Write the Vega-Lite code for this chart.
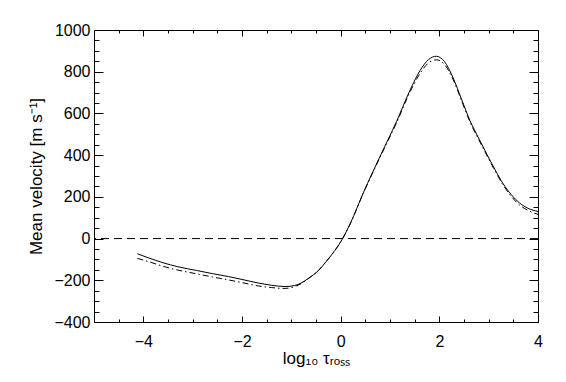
{
  "$schema": "https://vega.github.io/schema/vega-lite/v6.json",
  "width": 444,
  "height": 292,
  "autosize": {"type": "none"},
  "padding": {"left": 94, "top": 30, "right": 28, "bottom": 60},
  "background": "white",
  "config": {
    "view": {"stroke": "black", "strokeWidth": 1},
    "font": "Liberation Sans",
    "axis": {"domain": false, "grid": false, "tickColor": "black", "labelColor": "black", "titleColor": "black", "labelFont": "Liberation Sans", "titleFont": "Liberation Sans", "labelFontSize": 16, "titleFontSize": 17, "titleFontWeight": "normal", "tickWidth": 1, "format": "d"}
  },
  "datasets": {
    "zero": [{"y": 0}],
    "curves": [
      {"series": "solid", "x": -4.12, "v": -73},
      {"series": "solid", "x": -3.9, "v": -92},
      {"series": "solid", "x": -3.6, "v": -116},
      {"series": "solid", "x": -3.3, "v": -135},
      {"series": "solid", "x": -2.92, "v": -153},
      {"series": "solid", "x": -2.6, "v": -168},
      {"series": "solid", "x": -2.28, "v": -182},
      {"series": "solid", "x": -2.0, "v": -196},
      {"series": "solid", "x": -1.67, "v": -213},
      {"series": "solid", "x": -1.4, "v": -224},
      {"series": "solid", "x": -1.13, "v": -230},
      {"series": "solid", "x": -0.93, "v": -225},
      {"series": "solid", "x": -0.8, "v": -213},
      {"series": "solid", "x": -0.65, "v": -190},
      {"series": "solid", "x": -0.45, "v": -153},
      {"series": "solid", "x": -0.3, "v": -112},
      {"series": "solid", "x": -0.12, "v": -58},
      {"series": "solid", "x": 0.04, "v": 0},
      {"series": "solid", "x": 0.2, "v": 75},
      {"series": "solid", "x": 0.46, "v": 220},
      {"series": "solid", "x": 0.8, "v": 395},
      {"series": "solid", "x": 1.13, "v": 560},
      {"series": "solid", "x": 1.4, "v": 708},
      {"series": "solid", "x": 1.61, "v": 806},
      {"series": "solid", "x": 1.78, "v": 858},
      {"series": "solid", "x": 1.94, "v": 874},
      {"series": "solid", "x": 2.1, "v": 850},
      {"series": "solid", "x": 2.28, "v": 770},
      {"series": "solid", "x": 2.45, "v": 668},
      {"series": "solid", "x": 2.62, "v": 566},
      {"series": "solid", "x": 2.8, "v": 480},
      {"series": "solid", "x": 2.96, "v": 406},
      {"series": "solid", "x": 3.13, "v": 330},
      {"series": "solid", "x": 3.29, "v": 264},
      {"series": "solid", "x": 3.46, "v": 210},
      {"series": "solid", "x": 3.63, "v": 170},
      {"series": "solid", "x": 3.8, "v": 145},
      {"series": "solid", "x": 4.0, "v": 130},
      {"series": "dashdot", "x": -4.12, "v": -95},
      {"series": "dashdot", "x": -3.9, "v": -110},
      {"series": "dashdot", "x": -3.6, "v": -133},
      {"series": "dashdot", "x": -3.3, "v": -151},
      {"series": "dashdot", "x": -2.92, "v": -169},
      {"series": "dashdot", "x": -2.6, "v": -184},
      {"series": "dashdot", "x": -2.28, "v": -198},
      {"series": "dashdot", "x": -2.0, "v": -211},
      {"series": "dashdot", "x": -1.67, "v": -227},
      {"series": "dashdot", "x": -1.4, "v": -235},
      {"series": "dashdot", "x": -1.13, "v": -239},
      {"series": "dashdot", "x": -0.93, "v": -230},
      {"series": "dashdot", "x": -0.8, "v": -216},
      {"series": "dashdot", "x": -0.65, "v": -191},
      {"series": "dashdot", "x": -0.45, "v": -153},
      {"series": "dashdot", "x": -0.3, "v": -112},
      {"series": "dashdot", "x": -0.12, "v": -58},
      {"series": "dashdot", "x": 0.04, "v": 0},
      {"series": "dashdot", "x": 0.2, "v": 74},
      {"series": "dashdot", "x": 0.46, "v": 218},
      {"series": "dashdot", "x": 0.8, "v": 391},
      {"series": "dashdot", "x": 1.13, "v": 554},
      {"series": "dashdot", "x": 1.4, "v": 700},
      {"series": "dashdot", "x": 1.61, "v": 792},
      {"series": "dashdot", "x": 1.78, "v": 842},
      {"series": "dashdot", "x": 1.94, "v": 857},
      {"series": "dashdot", "x": 2.1, "v": 836},
      {"series": "dashdot", "x": 2.28, "v": 762},
      {"series": "dashdot", "x": 2.45, "v": 662},
      {"series": "dashdot", "x": 2.62, "v": 560},
      {"series": "dashdot", "x": 2.8, "v": 474},
      {"series": "dashdot", "x": 2.96, "v": 400},
      {"series": "dashdot", "x": 3.13, "v": 324},
      {"series": "dashdot", "x": 3.29, "v": 258},
      {"series": "dashdot", "x": 3.46, "v": 202},
      {"series": "dashdot", "x": 3.63, "v": 160},
      {"series": "dashdot", "x": 3.8, "v": 135},
      {"series": "dashdot", "x": 4.0, "v": 116}
    ]
  },
  "resolve": {"axis": {"x": "independent", "y": "independent"}},
  "layer": [
    {
      "data": {"name": "zero"},
      "mark": {"type": "rule", "strokeDash": [8, 5], "color": "black", "strokeWidth": 1},
      "encoding": {
        "y": {"field": "y", "type": "quantitative", "scale": {"domain": [-400, 1000], "nice": false, "zero": false},
          "axis": {"orient": "left", "title": "Mean velocity [m s⁻¹]", "values": [-400, -200, 0, 200, 400, 600, 800, 1000], "tickSize": -9, "labelPadding": 13, "titlePadding": 8, "labelFlush": false}}
      }
    },
    {
      "data": {"name": "curves"},
      "transform": [{"filter": "datum.series === 'solid'"}],
      "mark": {"type": "line", "color": "black", "strokeWidth": 1, "interpolate": "monotone"},
      "encoding": {
        "x": {"field": "x", "type": "quantitative", "scale": {"domain": [-5, 4], "nice": false, "zero": false},
          "axis": {"orient": "bottom", "title": "log₁₀ τᵣₒₛₛ", "values": [-4, -2, 0, 2, 4], "tickSize": -6, "labelPadding": 17, "titlePadding": 1, "labelFlush": false}},
        "y": {"field": "v", "type": "quantitative", "scale": {"domain": [-400, 1000], "nice": false, "zero": false},
          "axis": {"orient": "right", "title": null, "labels": false, "values": [-400, -200, 0, 200, 400, 600, 800, 1000], "tickSize": -9}}
      }
    },
    {
      "data": {"name": "curves"},
      "transform": [{"filter": "datum.series === 'dashdot'"}],
      "mark": {"type": "line", "color": "black", "strokeWidth": 1, "strokeDash": [6, 3, 1.5, 3], "interpolate": "monotone"},
      "encoding": {
        "x": {"field": "x", "type": "quantitative", "scale": {"domain": [-5, 4], "nice": false, "zero": false},
          "axis": {"orient": "top", "title": null, "labels": false, "values": [-4, -2, 0, 2, 4], "tickSize": -6}},
        "y": {"field": "v", "type": "quantitative", "scale": {"domain": [-400, 1000], "nice": false, "zero": false},
          "axis": {"orient": "left", "title": null, "labels": false, "values": [-350, -300, -250, -150, -100, -50, 50, 100, 150, 250, 300, 350, 450, 500, 550, 650, 700, 750, 850, 900, 950], "tickSize": -5}}
      }
    },
    {
      "data": {"name": "zero"},
      "mark": {"type": "rule", "strokeDash": [8, 5], "color": "black", "strokeWidth": 1, "opacity": 0},
      "encoding": {
        "y": {"field": "y", "type": "quantitative", "scale": {"domain": [-400, 1000], "nice": false, "zero": false},
          "axis": {"orient": "right", "title": null, "labels": false, "values": [-350, -300, -250, -150, -100, -50, 50, 100, 150, 250, 300, 350, 450, 500, 550, 650, 700, 750, 850, 900, 950], "tickSize": -5}}
      }
    },
    {
      "data": {"name": "zero"},
      "mark": {"type": "point", "opacity": 0},
      "encoding": {
        "x": {"datum": 0, "type": "quantitative", "scale": {"domain": [-5, 4], "nice": false, "zero": false},
          "axis": {"orient": "bottom", "title": null, "labels": false, "values": [-4.5, -3.5, -3, -2.5, -1.5, -1, -0.5, 0.5, 1, 1.5, 2.5, 3, 3.5], "tickSize": -3}},
        "y": {"datum": 0, "type": "quantitative", "scale": {"domain": [-400, 1000], "nice": false, "zero": false}, "axis": null}
      }
    },
    {
      "data": {"name": "zero"},
      "mark": {"type": "point", "opacity": 0},
      "encoding": {
        "x": {"datum": 0, "type": "quantitative", "scale": {"domain": [-5, 4], "nice": false, "zero": false},
          "axis": {"orient": "top", "title": null, "labels": false, "values": [-4.5, -3.5, -3, -2.5, -1.5, -1, -0.5, 0.5, 1, 1.5, 2.5, 3, 3.5], "tickSize": -3}},
        "y": {"datum": 0, "type": "quantitative", "scale": {"domain": [-400, 1000], "nice": false, "zero": false}, "axis": null}
      }
    }
  ]
}
